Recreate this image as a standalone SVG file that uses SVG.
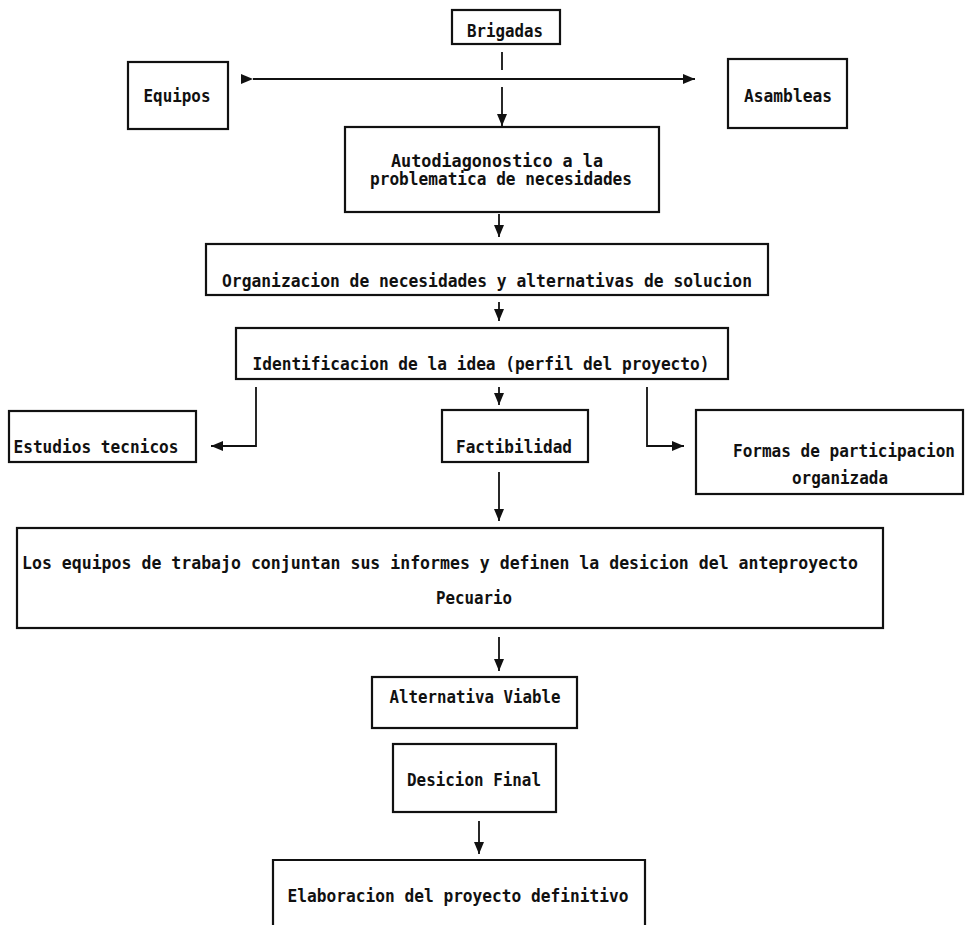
<svg xmlns="http://www.w3.org/2000/svg" width="966" height="925" viewBox="0 0 966 925">
<style>
.box{fill:none;stroke:#111;stroke-width:2.2}
.ln{fill:none;stroke:#111;stroke-width:1.8}
text{font-family:"DejaVu Sans Mono","Liberation Mono",monospace;font-size:18px;font-weight:bold;fill:#111;text-anchor:middle;lengthAdjust:spacingAndGlyphs}
</style>
<defs>
<marker id="ah" markerWidth="12" markerHeight="10" refX="12" refY="5" orient="auto" markerUnits="userSpaceOnUse">
<path d="M0,0 L12,5 L0,10 Z" fill="#111"/>
</marker>
</defs>
<rect width="966" height="925" fill="#fff"/>
<g id="connectors">
<line class="ln" x1="502" y1="52" x2="502" y2="70"/>
<line class="ln" x1="253" y1="79" x2="695" y2="79" marker-start="url(#ah)" marker-end="url(#ah)"/>
<line class="ln" x1="502" y1="87" x2="502" y2="126" marker-end="url(#ah)"/>
<line class="ln" x1="499" y1="214" x2="499" y2="237" marker-end="url(#ah)"/>
<line class="ln" x1="499" y1="302" x2="499" y2="321" marker-end="url(#ah)"/>
<line class="ln" x1="499" y1="387" x2="499" y2="405" marker-end="url(#ah)"/>
<polyline class="ln" points="256,387 256,446 211,446" marker-end="url(#ah)"/>
<polyline class="ln" points="647,387 647,446 684,446" marker-end="url(#ah)"/>
<line class="ln" x1="499" y1="472" x2="499" y2="521" marker-end="url(#ah)"/>
<line class="ln" x1="499" y1="637" x2="499" y2="671" marker-end="url(#ah)"/>
<line class="ln" x1="479" y1="821" x2="479" y2="854" marker-end="url(#ah)"/>
</g>
<g id="brigadas"><rect class="box" x="452" y="10" width="108" height="34"/><text x="505" y="37" textLength="76" lengthAdjust="spacingAndGlyphs">Brigadas</text></g>
<g id="equipos"><rect class="box" x="128" y="62" width="100" height="67"/><text x="177" y="102" textLength="67" lengthAdjust="spacingAndGlyphs">Equipos</text></g>
<g id="asambleas"><rect class="box" x="728" y="59" width="119" height="69"/><text x="788" y="102" textLength="88" lengthAdjust="spacingAndGlyphs">Asambleas</text></g>
<g id="autodiagnostico"><rect class="box" x="345" y="127" width="314" height="85"/><text x="497" y="167" textLength="212" lengthAdjust="spacingAndGlyphs">Autodiagonostico a la</text><text x="501" y="185" textLength="262" lengthAdjust="spacingAndGlyphs">problematica de necesidades</text></g>
<g id="organizacion"><rect class="box" x="206" y="244" width="562" height="51"/><text x="487" y="287" textLength="530" lengthAdjust="spacingAndGlyphs">Organizacion de necesidades y alternativas de solucion</text></g>
<g id="identificacion"><rect class="box" x="236" y="328" width="492" height="51"/><text x="481" y="370" textLength="457" lengthAdjust="spacingAndGlyphs">Identificacion de la idea (perfil del proyecto)</text></g>
<g id="estudios"><rect class="box" x="9" y="411" width="187" height="51"/><text x="96" y="453" textLength="165" lengthAdjust="spacingAndGlyphs">Estudios tecnicos</text></g>
<g id="factibilidad"><rect class="box" x="442" y="410" width="146" height="52"/><text x="514" y="453" textLength="116" lengthAdjust="spacingAndGlyphs">Factibilidad</text></g>
<g id="formas"><rect class="box" x="696" y="410" width="267" height="84"/><text x="844" y="457" textLength="222" lengthAdjust="spacingAndGlyphs">Formas de participacion</text><text x="840" y="484" textLength="96" lengthAdjust="spacingAndGlyphs">organizada</text></g>
<g id="equipos-trabajo"><rect class="box" x="17" y="528" width="866" height="100"/><text x="440" y="569" textLength="836" lengthAdjust="spacingAndGlyphs">Los equipos de trabajo conjuntan sus informes y definen la desicion del anteproyecto</text><text x="474" y="604" textLength="76" lengthAdjust="spacingAndGlyphs">Pecuario</text></g>
<g id="alternativa"><rect class="box" x="372" y="677" width="205" height="51"/><text x="475" y="703" textLength="171" lengthAdjust="spacingAndGlyphs">Alternativa Viable</text></g>
<g id="desicion"><rect class="box" x="393" y="744" width="163" height="68"/><text x="474" y="786" textLength="134" lengthAdjust="spacingAndGlyphs">Desicion Final</text></g>
<g id="elaboracion"><path class="box" d="M273,930 V860 H645 V930"/><text x="458" y="902" textLength="341" lengthAdjust="spacingAndGlyphs">Elaboracion del proyecto definitivo</text></g>
</svg>
